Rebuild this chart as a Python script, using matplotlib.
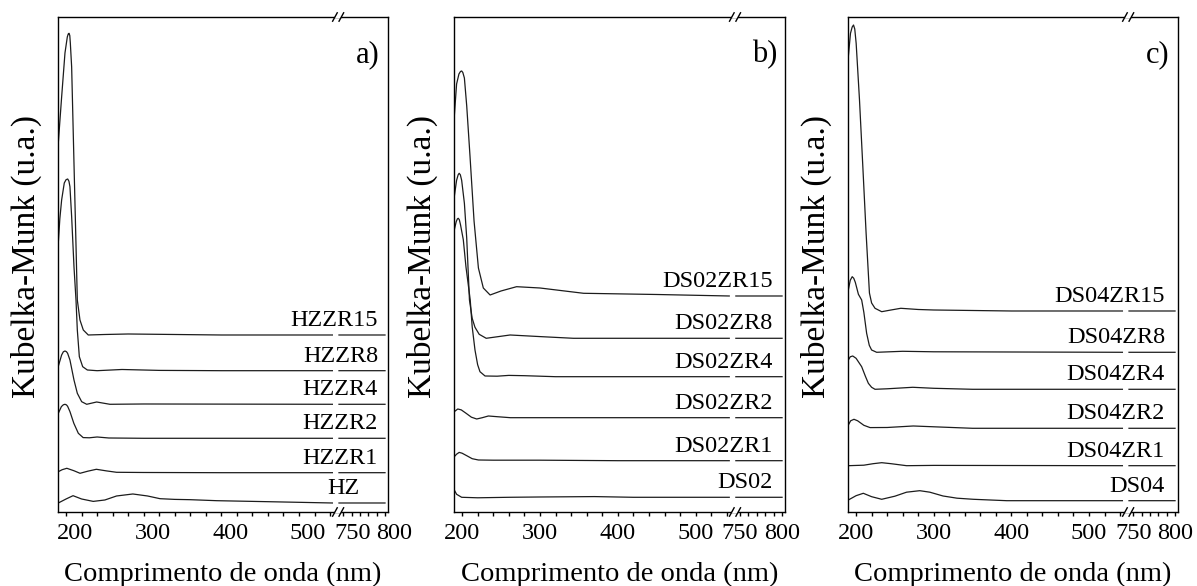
"""Stacked Kubelka-Munk UV-Vis spectra with a broken wavelength axis (three panels)."""

import matplotlib
matplotlib.use("Agg")
import matplotlib.pyplot as plt
import numpy as np
from matplotlib.patches import Rectangle
from matplotlib.transforms import ScaledTranslation, blended_transform_factory

plt.rcParams["font.family"] = ["Liberation Serif", "DejaVu Serif"]

# (wavelength nm, signal above the curve's own baseline)
HZ = [(190, 0), (200, 4), (209, 7.3), (220, 4), (235, 1.6), (250, 3), (265, 7), (286, 9),
      (305, 7), (321, 4.3), (340, 3.6), (360, 3.3), (394, 2.3), (460, 1.3), (543, 0), (743, 0), (800, 0)]
HZZR1 = [(190, 1), (195, 3), (201, 4.4), (210, 2), (218, -0.6), (228, 1.5), (239, 3.4), (252, 1.8),
         (265, 0.4), (300, 0.2), (400, 0), (543, 0), (743, 0), (800, 0)]
HZZR2 = [(190, 25), (194, 31.7), (196.5, 33.5), (198.6, 34), (200.5, 33.4), (202, 32), (205, 26.7),
         (210, 15), (215.8, 5), (222, 0.7), (230, 0.5), (240, 1.3), (255, 0.3), (300, 0), (543, 0),
         (743, 0), (800, 0)]
HZZR4 = [(190, 38), (194.3, 49.3), (196.5, 52.5), (198.6, 53.3), (200.5, 52.6), (202, 51), (205, 44.3),
         (210.2, 24.3), (214.5, 11), (220.1, 2.6), (226.6, 0), (239.4, 2.3), (256.5, 0), (300, 0.3),
         (543, 0), (743, 0), (800, 0)]
HZZR8 = [(190, 128), (192, 152), (194.3, 170.7), (197.7, 187.7), (200, 191), (202.1, 191.7),
         (203.7, 189.5), (205, 184), (207.2, 154), (210.2, 104), (212.8, 70.7), (214.5, 40.7),
         (217.1, 14), (221.4, 4), (227.4, 0.7), (240, 0), (272, 1.2), (320, 0.3), (400, 0), (543, 0),
         (743, 0), (800, 0)]
HZZR15 = [(190, 192), (194.3, 238), (198.6, 282), (201.6, 298), (202.8, 301), (203.8, 301.7),
          (204.8, 299.5), (205.5, 292), (207.2, 268), (210.2, 172), (212.8, 90), (214.5, 35),
          (217.9, 15), (222.2, 5), (228.6, 0), (250, 0.5), (280, 1), (400, 0), (543, 0), (743, 0),
          (800, 0)]

DS02 = [(190, 7.3), (193, 3), (199.5, 0), (220, -0.5), (260, 0), (300, 0.3), (370, 0.7), (420, 0),
        (543, 0), (743, 0), (800, 0)]
DS02ZR1 = [(190, 4), (193, 6.5), (196.3, 8.3), (200, 7.5), (206, 5), (213, 2), (221, 0.7), (240, 0.5),
           (300, 0.5), (400, 0), (543, 0), (743, 0), (800, 0)]
DS02ZR2 = [(190, 6), (194.5, 8.7), (199, 7.8), (205, 4.5), (212, 0.5), (218.8, -1.3), (226, 0),
           (233.8, 1.7), (245, 1), (262, 0), (543, 0), (743, 0), (800, 0)]
DS02ZR4 = [(190, 146.7), (192.5, 155), (194, 157.8), (195.1, 158.4), (196.5, 157), (198, 152),
           (201.6, 137), (205, 110), (210.5, 76.7), (213, 50), (216.6, 26.7), (220, 12), (223, 5),
           (229.5, 0.7), (245, 0.5), (260, 1.3), (280, 1), (320, 0), (543, 0), (743, 0), (800, 0)]
DS02ZR8 = [(190, 141.6), (193, 158), (195, 163.5), (196.3, 165), (197.8, 163.5), (199.5, 158),
           (203, 135), (206, 100), (209.5, 38.3), (213, 20), (216.6, 11), (222, 4), (231, 0),
           (245, 1.5), (261.7, 3.3), (300, 1.7), (343, 0), (543, 0), (743, 0), (800, 0)]
DS02ZR15 = [(190, 179.3), (193, 212), (196, 222), (198, 224.5), (199.5, 225), (201, 223.5),
            (203, 218), (206, 190), (210.2, 140), (215.4, 75), (221, 28), (227.3, 8), (236, 1),
            (250, 5), (270, 9.3), (300, 8), (356, 2.7), (450, 1.5), (543, 0), (743, 0), (800, 0)]

DS04 = [(190, 0.7), (200, 5), (209.3, 7.4), (220, 4), (233, 1.4), (250, 4.5), (265, 8.5), (282, 10),
        (295, 8.5), (312, 4.7), (330, 2.5), (351, 1.4), (394, 0), (543, 0), (743, 0), (800, 0)]
DS04ZR1 = [(190, 0), (210, 0.5), (222, 2), (233, 3), (245, 2), (265, 0), (300, 0.3), (543, 0),
           (743, 0), (800, 0)]
DS04ZR2 = [(190, 3.3), (193, 7.5), (197.3, 9), (202, 7.5), (210, 3), (218, 0.7), (240, 0.8),
           (273.7, 2.3), (300, 1.5), (350, 0), (543, 0), (743, 0), (800, 0)]
DS04ZR4 = [(190, 29.3), (192.5, 32.5), (195.7, 33.3), (200, 31), (207.2, 22.6), (212, 13),
           (215.8, 6), (220, 2), (224.4, 0), (240, 0.5), (273, 2), (300, 1), (350, 0), (543, 0),
           (743, 0), (800, 0)]
DS04ZR8 = [(190, 62.3), (192.5, 72), (195, 75.6), (197, 74), (199, 70), (203, 58), (207.2, 52.3),
           (210, 40), (213.6, 19), (217, 7), (220, 2.3), (226.5, 0), (260, 1), (300, 0.5), (543, 0),
           (743, 0), (800, 0)]
DS04ZR15 = [(190, 254.3), (192.8, 277.7), (195, 284), (196.7, 286), (198.3, 282), (200.1, 267.7),
            (204.4, 211), (208.7, 144.3), (212.9, 78), (217.2, 18), (220, 8), (224.4, 2.7), (233, -0.7),
            (245, 1), (257.6, 2.7), (280, 1.5), (300, 1), (400, 0), (543, 0), (743, 0), (800, 0)]

NAMES_A = ["HZ", "HZZR1", "HZZR2", "HZZR4", "HZZR8", "HZZR15"]
NAMES_B = ["DS02", "DS02ZR1", "DS02ZR2", "DS02ZR4", "DS02ZR8", "DS02ZR15"]
NAMES_C = ["DS04", "DS04ZR1", "DS04ZR2", "DS04ZR4", "DS04ZR8", "DS04ZR15"]
SPECTRA_A = [HZ, HZZR1, HZZR2, HZZR4, HZZR8, HZZR15]
SPECTRA_B = [DS02, DS02ZR1, DS02ZR2, DS02ZR4, DS02ZR8, DS02ZR15]
SPECTRA_C = [DS04, DS04ZR1, DS04ZR2, DS04ZR4, DS04ZR8, DS04ZR15]
# vertical stacking offsets (same arbitrary units as the spectra)
OFFSETS_A = [9, 39.3, 73.7, 107.7, 141.3, 177]
OFFSETS_B = [14.7, 51.3, 94.3, 135.3, 173.7, 216]
OFFSETS_C = [11.3, 46.3, 83.7, 122.7, 159.7, 201]

MAJOR_TICKS = [200, 300, 400, 500, 750, 800]
MINOR_TICKS = [220, 240, 260, 280, 320, 340, 360, 380, 420, 440, 460, 480, 520, 540, 760, 770, 780, 790]

# broken axis: 190-545 nm at full scale, 545-745 squeezed, 745-800 slightly expanded
KNOTS_NM = [100, 190, 545, 745, 900]
KNOTS_U = [-69.9, 0.0, 275.8, 280.9, 410.6]
BREAK_NM = 710


def forward(x):
    return np.interp(x, KNOTS_NM, KNOTS_U)


def inverse(u):
    return np.interp(u, KNOTS_U, KNOTS_NM)


def split_segments(spectrum, offset):
    nm = np.array([p[0] for p in spectrum], float)
    val = np.array([p[1] for p in spectrum], float) + offset
    first = nm <= 550
    x = np.concatenate([nm[first], [np.nan], nm[~first]])
    y = np.concatenate([val[first], [np.nan], val[~first]])
    return x, y


def draw_break(ax):
    xa = ax.transAxes.inverted().transform(ax.transData.transform((BREAK_NM, 0)))[0]
    bbox = ax.get_window_extent()
    px = 1.0 / bbox.width
    py = 1.0 / bbox.height
    for ya in (0.0, 1.0):
        ax.add_patch(Rectangle((xa - 3.2 * px, ya - 1.5 * py), 6.4 * px, 3 * py,
                               transform=ax.transAxes, facecolor="white", edgecolor="none",
                               clip_on=False, zorder=5))
        for s in (-3.2, 3.2):
            ax.plot([xa + (s - 2.3) * px, xa + (s + 2.3) * px], [ya - 4.2 * py, ya + 4.2 * py],
                    transform=ax.transAxes, color="black", lw=1.0, clip_on=False, zorder=6)


def make_panel(fig, rect, names, spectra, offsets, tag, label_pad, tick_shift=0.0, first_pad=None):
    ax = fig.add_axes(rect)
    ax.set_xscale("function", functions=(forward, inverse))
    for spectrum, off in zip(spectra, offsets):
        x, y = split_segments(spectrum, off)
        ax.plot(x, y, color="#1c1c1c", lw=0.9)
    ax.set_xlim(190, 803.5)
    ax.set_ylim(0, 495)
    ax.set_yticks([])
    ax.set_xticks(MAJOR_TICKS)
    ax.set_xticks(MINOR_TICKS, minor=True)
    ax.tick_params(axis="x", which="both", direction="out", length=3.2, width=1.0,
                   labelsize=17.5, pad=4.5, top=False)
    for side in ax.spines.values():
        side.set_linewidth(1.0)

    if tick_shift:
        shift = ScaledTranslation(tick_shift / 100, 0, fig.dpi_scale_trans)
        for lbl in ax.xaxis.get_majorticklabels():
            lbl.set_transform(lbl.get_transform() + shift)

    ax.set_xlabel("Comprimento de onda (nm)", fontsize=20.5, labelpad=13)
    ax.set_ylabel("Kubelka-Munk (u.a.)", fontsize=24)
    ax.yaxis.set_label_coords(-0.05, 0.516)

    trans = blended_transform_factory(ax.transAxes, ax.transData)
    for i, (name, off) in enumerate(zip(names, offsets)):
        pad = first_pad if (i == 0 and first_pad is not None) else label_pad
        ax.annotate(name, xy=(1, off), xycoords=trans, xytext=(-pad, 9),
                    textcoords="offset pixels", ha="right", va="baseline", fontsize=17.5)
    ax.text(1, 1, tag, transform=ax.transAxes + ScaledTranslation(-0.08, -0.45, fig.dpi_scale_trans),
            ha="right", va="baseline", fontsize=22)
    draw_break(ax)
    return ax


def main():
    fig = plt.figure(figsize=(11.97, 5.86), dpi=100)
    bottom, height = 0.1263, 0.8447
    make_panel(fig, [0.0487, bottom, 0.2754, height], NAMES_A, SPECTRA_A, OFFSETS_A, "a)", 10,
               tick_shift=9, first_pad=28)
    make_panel(fig, [0.3795, bottom, 0.2763, height], NAMES_B, SPECTRA_B, OFFSETS_B, "b)", 12)
    make_panel(fig, [0.7087, bottom, 0.2754, height], NAMES_C, SPECTRA_C, OFFSETS_C, "c)", 13)
    fig.savefig("out.png", dpi=100)


if __name__ == "__main__":
    main()
